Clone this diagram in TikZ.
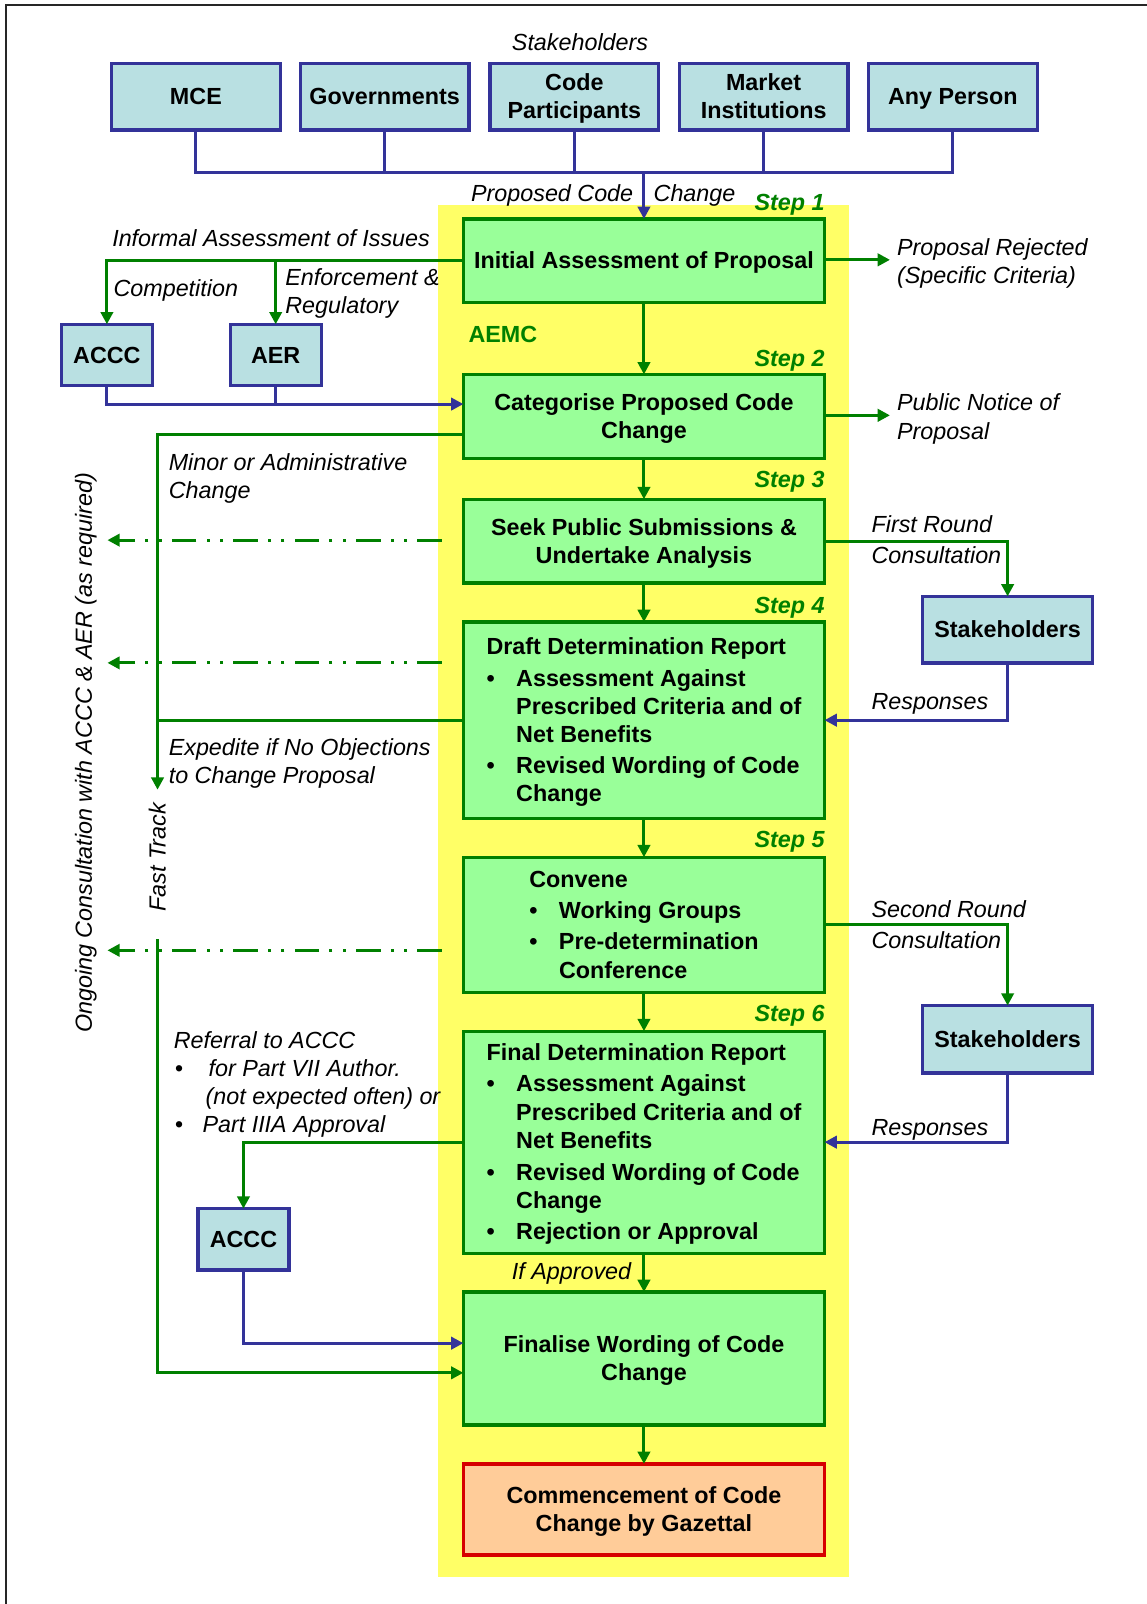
\documentclass[tikz,border=0pt]{standalone}
\usepackage{fontspec}
\setmainfont{Liberation Sans}
\usetikzlibrary{arrows.meta}
\definecolor{bfill}{RGB}{185,224,226}
\definecolor{bdraw}{RGB}{51,51,153}
\definecolor{gfill}{RGB}{153,255,153}
\definecolor{gdraw}{RGB}{0,128,0}
\definecolor{yel}{RGB}{255,255,102}
\definecolor{ofill}{RGB}{255,204,153}
\definecolor{rdraw}{RGB}{214,0,0}
\newcommand{\fs}{\fontsize{22.8}{27.5}\selectfont}
\newcommand{\bul}{\makebox[29pt][l]{•}}
\newcommand{\lstrut}{\rule[-0.212em]{0pt}{1.117em}}
\begin{document}
\begin{tikzpicture}[x=1pt,y=1pt,
  every node/.style={font=\fs, inner sep=0pt, outer sep=0pt, execute at begin node=\lstrut, execute at end node=\lstrut},
  stk/.style={draw=bdraw, fill=bfill, line width=3.2pt, minimum width=165pt, minimum height=65pt, font=\fs\bfseries, align=center},
  sbox/.style={draw=bdraw, fill=bfill, line width=3.2pt, minimum width=89pt, minimum height=60pt, font=\fs\bfseries},
  gbox/.style={draw=gdraw, fill=gfill, line width=3.2pt, minimum width=353pt, font=\fs\bfseries, align=center},
  gboxl/.style={gbox, align=left},
  lab/.style={font=\fs\itshape, align=left},
  steplab/.style={font=\fs\bfseries\itshape, text=gdraw, anchor=east},
  gline/.style={draw=gdraw, line width=3pt},
  bline/.style={draw=bdraw, line width=3pt},
  garr/.style={gline, -{Triangle[length=12pt,width=12pt]}},
  barr/.style={bline, -{Triangle[length=12pt,width=12pt]}},
  dd/.style={gline, dash pattern=on 24pt off 10pt on 3pt off 10pt on 3pt off 10pt, -{Triangle[length=12pt,width=12pt]}}
]
\useasboundingbox (0,0) rectangle (1121,-1568);
% frame
\draw[line width=2pt, black!85] (1121,-5) -- (6,-5) -- (6,-1568);
% yellow AEMC area
\fill[yel] (428,-200) rectangle (830,-1542);

% stakeholders
\node[lab] (stklab) at (567,-41) {Stakeholders};
\node[stk] (mce) at (191.5,-94.5) {MCE};
\node[stk] (gov) at (376,-94.5) {Governments};
\node[stk] (cp) at (561.5,-94.5) {\lstrut Code\\Participants};
\node[stk] (mi) at (746.5,-94.5) {\lstrut Market\\Institutions};
\node[stk] (ap) at (931.5,-94.5) {Any Person};

% main steps
\node[gbox, minimum height=82pt] (s1) at (629.5,-255) {Initial Assessment of Proposal};
\node[gbox, minimum height=82pt] (s2) at (629.5,-407) {\lstrut Categorise Proposed Code\\Change};
\node[gbox, minimum height=82pt] (s3) at (629.5,-529) {\lstrut Seek Public Submissions \&\\Undertake Analysis};
\node[gboxl, minimum height=192pt] (s4) at (629.5,-704) {\lstrut Draft Determination Report\\[3pt]
\bul Assessment Against\\
\hspace*{29pt}Prescribed Criteria and of\\
\hspace*{29pt}Net Benefits\\[3pt]
\bul Revised Wording of Code\\
\hspace*{29pt}Change};
\node[gboxl, minimum height=132pt] (s5) at (629.5,-904) {\lstrut Convene\\[3pt]
\bul Working Groups\\[3pt]
\bul Pre-determination\\
\hspace*{29pt}Conference};
\node[gboxl, minimum height=217pt] (s6) at (629.5,-1116.5) {\lstrut Final Determination Report\\[3pt]
\bul Assessment Against\\
\hspace*{29pt}Prescribed Criteria and of\\
\hspace*{29pt}Net Benefits\\[4pt]
\bul Revised Wording of Code\\
\hspace*{29pt}Change\\[3pt]
\bul Rejection or Approval};
\node[gbox, minimum height=130pt] (fin) at (629.5,-1328) {\lstrut Finalise Wording of Code\\Change};
\node[gbox, draw=rdraw, fill=ofill, minimum height=89pt] (com) at (629.5,-1475.5) {\lstrut Commencement of Code\\Change by Gazettal};

% step labels
\node[steplab] (st1) at (806,-198) {Step 1};
\node[steplab] (st2) at (806,-350) {Step 2};
\node[steplab] (st3) at (806,-469) {Step 3};
\node[steplab] (st4) at (806,-592) {Step 4};
\node[steplab] (st5) at (806,-821) {Step 5};
\node[steplab] (st6) at (806,-991) {Step 6};
\node[font=\fs\bfseries, text=gdraw, anchor=west] (aemc) at (458,-327) {AEMC};

% side boxes
\node[sbox] (accc) at (104.5,-347) {ACCC};
\node[sbox] (aer) at (269.5,-347) {AER};
\node[sbox] (accc2) at (238,-1211.5) {ACCC};
\node[stk, minimum width=166pt] (sh1) at (985,-615.5) {Stakeholders};
\node[stk, minimum width=166pt, minimum height=66pt] (sh2) at (985,-1016) {Stakeholders};

% stakeholder bus
\coordinate (bus) at (s1.north |- 0,-169);
\draw[bline] (mce.south) |- (bus) -| (ap.south);
\draw[bline] (gov.south) -- (gov.south |- bus);
\draw[bline] (cp.south) -- (cp.south |- bus);
\draw[bline] (mi.south) -- (mi.south |- bus);
\draw[barr] (bus) -- (s1.north);
\node[lab, anchor=east] (pc1) at (619,-189) {Proposed Code};
\node[lab, anchor=west] (pc2) at (639,-189) {Change};

% main flow
\draw[garr] (s1.south) -- (s2.north);
\draw[garr] (s2.south) -- (s3.north);
\draw[garr] (s3.south) -- (s4.north);
\draw[garr] (s4.south) -- (s5.north);
\draw[garr] (s5.south) -- (s6.north);
\draw[garr] (s6.south) -- (fin.north);
\draw[garr] (fin.south) -- (com.north);
\node[lab, anchor=east] (ifap) at (617,-1243) {If Approved};

% informal assessment
\coordinate (jaer) at (aer.north |- s1.west);
\draw[garr] (s1.west) -| (accc.north);
\draw[garr] (jaer) -- (aer.north);
\node[lab, anchor=center] (inf) at (265,-233) {Informal Assessment of Issues};
\node[lab, anchor=west] (comp) at (111,-282) {Competition};
\node[lab, anchor=west] (enf) at (279,-284.5) {\lstrut Enforcement \&\\Regulatory};
\coordinate (s2in) at (s2.west |- 0,-395);
\draw[barr] (accc.south) |- (s2in);
\draw[bline] (aer.south) -- (aer.south |- s2in);

% right side outputs
\coordinate (rej) at (870,-254);
\coordinate (pub) at (870,-406);
\draw[garr] (s1.east |- rej) -- (rej);
\draw[garr] (s2.east |- pub) -- (pub);
\node[lab, anchor=west] (rejl) at (877,-255.5) {\lstrut Proposal Rejected\\(Specific Criteria)};
\node[lab, anchor=west] (publ) at (877,-407.5) {\lstrut Public Notice of\\Proposal};

% consultation rounds
\draw[garr] (s3.east) -| (sh1.north);
\draw[barr] (sh1.south) |- (s4.east);
\draw[garr] (s5.east) -| (sh2.north);
\draw[barr] (sh2.south) |- (s6.east);
\node[lab, anchor=west] (fr) at (852,-528) {\lstrut First Round\\[2.5pt]Consultation};
\node[lab, anchor=west] (rs1) at (852,-686) {Responses};
\node[lab, anchor=west] (sr) at (852,-904) {\lstrut Second Round\\[2.5pt]Consultation};
\node[lab, anchor=west] (rs2) at (852,-1102) {Responses};

% fast track
\coordinate (s2out) at (s2.west |- 0,-425);
\coordinate (ftend) at (154,-772);
\coordinate (ftlow) at (154,-918);
\coordinate (finin) at (fin.west |- 0,-1342);
\draw[garr] (s2out) -| (ftend);
\draw[gline] (s4.west) -- (ftend |- s4.west);
\draw[garr] (ftlow) |- (finin);
\node[lab, anchor=west] (minor) at (165,-465.5) {\lstrut Minor or Administrative\\Change};
\node[lab, anchor=west] (exp) at (165,-744.5) {\lstrut Expedite if No Objections\\to Change Proposal};
\node[lab, rotate=90] (ft) at (154,-838) {Fast Track};

% ongoing consultation
\coordinate (d1s) at (432,-528);
\coordinate (d1e) at (105,-528);
\coordinate (d2s) at (432,-648);
\coordinate (d2e) at (105,-648);
\coordinate (d3s) at (432,-929);
\coordinate (d3e) at (105,-929);
\draw[dd] (d1s) -- (d1e);
\draw[dd] (d2s) -- (d2e);
\draw[dd] (d3s) -- (d3e);
\node[lab, rotate=90] (ong) at (82,-736) {Ongoing Consultation with ACCC \& AER (as required)};

% referral to ACCC
\draw[garr] (s6.west) -| (accc2.north);
\coordinate (finin2) at (fin.west |- 0,-1313);
\draw[barr] (accc2.south) |- (finin2);
\node[lab, anchor=west] (ref) at (170,-1058) {\lstrut Referral to ACCC\\
\makebox[34pt][l]{\hspace*{1pt}•}for Part VII Author.\\
\hspace*{31pt}(not expected often) or\\
\makebox[28pt][l]{\hspace*{1pt}•}Part IIIA Approval};
\end{tikzpicture}
\end{document}
